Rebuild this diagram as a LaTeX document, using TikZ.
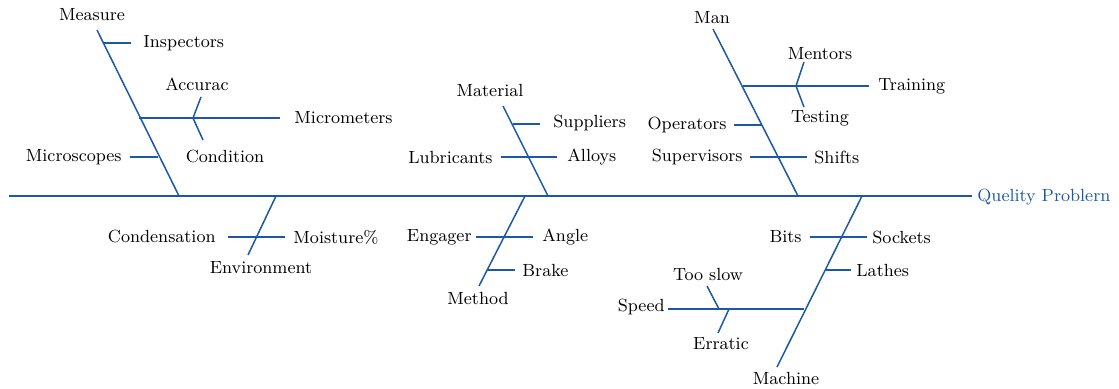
\documentclass[tikz,border=0pt]{standalone}
\usetikzlibrary{positioning}
\definecolor{bonecol}{RGB}{28,88,168}
\begin{document}
\begin{tikzpicture}[
    x=0.5pt, y=-0.5pt,
    bone/.style={draw=bonecol, line width=0.75pt},
    lbl/.style={inner sep=0pt, font=\fontsize{8.8}{10}\selectfont},
  ]
    \useasboundingbox (0,0) rectangle (1119,388);

    % Spine and effect
    \coordinate (tail) at (9,196);
    \coordinate (head) at (972,196);
    \node[lbl, anchor=west, text=bonecol] (effect) at (977,197) {Quelity Problern};
    \draw[bone] (tail) -- (head);

    % Measure
    \node[lbl] (measure) at (92,15) {Measure};
    \coordinate (measTop) at (97,30);
    \coordinate (measFoot) at (179,196);
    \draw[bone] (measTop) -- (measFoot);
    \node[lbl, anchor=west] (inspectors) at (143,43) {Inspectors};
    \coordinate (inspA) at (104,43);
    \coordinate (inspB) at (131,43);
    \draw[bone] (inspA) -- (inspB);
    \node[lbl, anchor=west] (micrometers) at (294,118) {Micrometers};
    \coordinate (microA) at (139,118);
    \coordinate (microB) at (280,118);
    \coordinate (microFork) at (193,118);
    \draw[bone] (microA) -- (microB);
    \node[lbl] (accurac) at (197,84) {Accurac};
    \coordinate (accTip) at (201,97);
    \draw[bone] (accTip) -- (microFork);
    \node[lbl] (condition) at (225,156) {Condition};
    \coordinate (condTip) at (203,140);
    \draw[bone] (microFork) -- (condTip);
    \node[lbl, anchor=east] (microscopes) at (122,157) {Microscopes};
    \coordinate (scopeA) at (130,157);
    \coordinate (scopeB) at (158,157);
    \draw[bone] (scopeA) -- (scopeB);

    % Environment
    \node[lbl] (environment) at (261,268) {Environment};
    \coordinate (envRoot) at (276,196);
    \coordinate (envEnd) at (248,255);
    \draw[bone] (envRoot) -- (envEnd);
    \node[lbl, anchor=east] (condensation) at (216,236) {Condensation};
    \node[lbl, anchor=west] (moisture) at (293,237) {Moisture\%};
    \coordinate (moistA) at (228,237);
    \coordinate (moistB) at (285,237);
    \draw[bone] (moistA) -- (moistB);

    % Material
    \node[lbl] (material) at (490,90) {Material};
    \coordinate (matTop) at (503,106);
    \coordinate (matFoot) at (548,196);
    \draw[bone] (matTop) -- (matFoot);
    \node[lbl, anchor=west] (suppliers) at (553,123) {Suppliers};
    \coordinate (suppA) at (513,124);
    \coordinate (suppB) at (540,124);
    \draw[bone] (suppA) -- (suppB);
    \node[lbl, anchor=east] (lubricants) at (493,157) {Lubricants};
    \node[lbl, anchor=west] (alloys) at (567,157) {Alloys};
    \coordinate (alloyA) at (501,157);
    \coordinate (alloyB) at (557,157);
    \draw[bone] (alloyA) -- (alloyB);

    % Method
    \node[lbl] (method) at (478,298) {Method};
    \coordinate (methRoot) at (525,196);
    \coordinate (methEnd) at (479,286);
    \draw[bone] (methRoot) -- (methEnd);
    \node[lbl, anchor=east] (engager) at (472,237) {Engager};
    \node[lbl, anchor=west] (angle) at (542,237) {Angle};
    \coordinate (angleA) at (476,237);
    \coordinate (angleB) at (533,237);
    \draw[bone] (angleA) -- (angleB);
    \node[lbl, anchor=west] (brake) at (522,270) {Brake};
    \coordinate (brakeA) at (488,270);
    \coordinate (brakeB) at (515,270);
    \draw[bone] (brakeA) -- (brakeB);

    % Man
    \node[lbl] (man) at (712,18) {Man};
    \coordinate (manTop) at (713,29);
    \coordinate (manFoot) at (798,196);
    \draw[bone] (manTop) -- (manFoot);
    \node[lbl, anchor=west] (training) at (878,86) {Training};
    \coordinate (trainA) at (743,86);
    \coordinate (trainB) at (869,86);
    \coordinate (trainFork) at (796,86);
    \draw[bone] (trainA) -- (trainB);
    \node[lbl] (mentors) at (820,54) {Mentors};
    \coordinate (mentTip) at (804,62);
    \draw[bone] (mentTip) -- (trainFork);
    \node[lbl] (testing) at (820,118) {Testing};
    \coordinate (testTip) at (804,107);
    \draw[bone] (trainFork) -- (testTip);
    \node[lbl, anchor=east] (operators) at (727,125) {Operators};
    \coordinate (operA) at (734,125);
    \coordinate (operB) at (762,125);
    \draw[bone] (operA) -- (operB);
    \node[lbl, anchor=east] (supervisors) at (743,157) {Supervisors};
    \node[lbl, anchor=west] (shifts) at (814,157) {Shifts};
    \coordinate (shiftA) at (750,157);
    \coordinate (shiftB) at (807,157);
    \draw[bone] (shiftA) -- (shiftB);

    % Machine
    \node[lbl] (machine) at (786,378) {Machine};
    \coordinate (machRoot) at (862,196);
    \coordinate (machEnd) at (777,367);
    \draw[bone] (machRoot) -- (machEnd);
    \node[lbl, anchor=east] (bits) at (802,237) {Bits};
    \node[lbl, anchor=west] (sockets) at (872,237) {Sockets};
    \coordinate (sockA) at (810,237);
    \coordinate (sockB) at (867,237);
    \draw[bone] (sockA) -- (sockB);
    \node[lbl, anchor=west] (lathes) at (856,270) {Lathes};
    \coordinate (latheA) at (826,270);
    \coordinate (latheB) at (851,270);
    \draw[bone] (latheA) -- (latheB);
    \node[lbl, anchor=east] (speed) at (665,307) {Speed};
    \coordinate (speedA) at (668,309);
    \coordinate (speedB) at (804,309);
    \draw[bone] (speedA) -- (speedB);
    \node[lbl] (tooslow) at (708,274) {Too slow};
    \coordinate (slowTip) at (707,286);
    \coordinate (slowFork) at (719,309);
    \draw[bone] (slowTip) -- (slowFork);
    \node[lbl] (erratic) at (721,344) {Erratic};
    \coordinate (errFork) at (729,309);
    \coordinate (errTip) at (718,333);
    \draw[bone] (errFork) -- (errTip);
  \end{tikzpicture}
\end{document}
